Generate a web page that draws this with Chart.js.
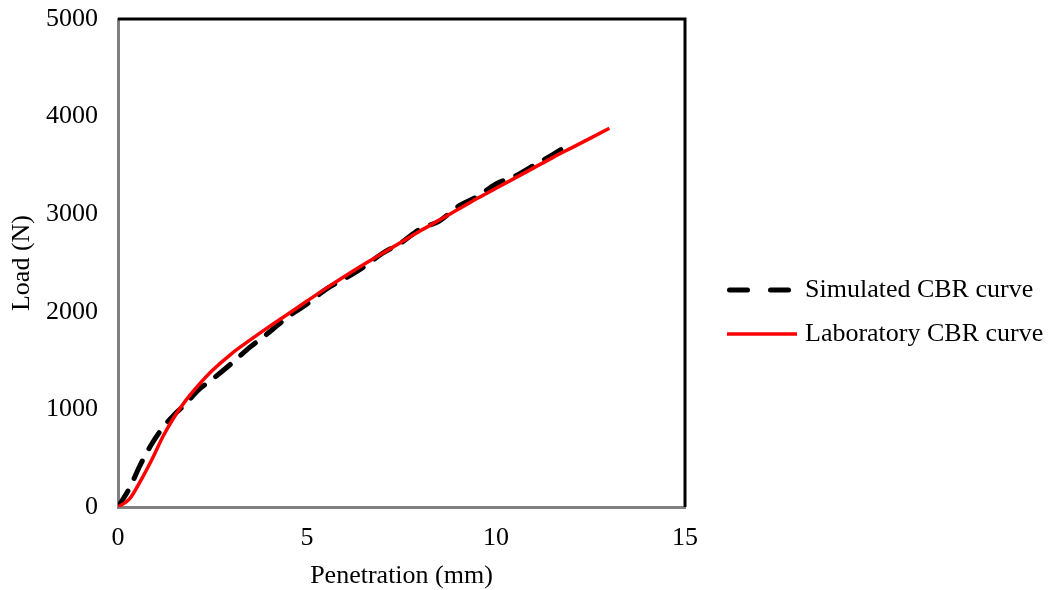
<!DOCTYPE html>
<html>
<head>
<meta charset="utf-8">
<script src="https://cdn.jsdelivr.net/npm/chart.js@4"></script>
<style>
  html, body { margin: 0; padding: 0; background: #fff; }
  #wrap { width: 1053px; height: 590px; }
</style>
</head>
<body>
<div id="wrap"><canvas id="chart"></canvas></div>
<script>
// data
const simPen  = [0, 0.3, 0.6, 0.9, 1.2, 1.5, 1.8, 2.1, 2.5, 3.0, 3.5, 4.0, 4.5, 5.0, 5.5, 6.0, 6.5, 7.0, 7.5, 8.0, 8.5, 9.0, 9.5, 10.0, 10.5, 11.0, 11.5, 12.0];
const simLoad = [0, 190, 440, 650, 820, 950, 1060, 1190, 1310, 1470, 1640, 1790, 1950, 2080, 2230, 2340, 2460, 2600, 2710, 2850, 2930, 3080, 3180, 3310, 3390, 3500, 3610, 3730];

const labPen  = [0, 0.3, 0.6, 0.9, 1.2, 1.5, 1.8, 2.1, 2.5, 3.0, 3.5, 4.0, 4.5, 5.0, 5.5, 6.0, 6.5, 7.0, 7.5, 8.0, 8.5, 9.0, 9.5, 10.0, 10.5, 11.0, 11.5, 12.0, 12.5, 13.0];
const labLoad = [0, 80, 270, 490, 730, 930, 1095, 1235, 1400, 1570, 1712, 1848, 1978, 2110, 2240, 2365, 2485, 2600, 2715, 2830, 2940, 3050, 3160, 3265, 3370, 3475, 3580, 3680, 3780, 3880];

const seriesNames = ['Simulated CBR curve', 'Laboratory CBR curve'];
const xTitle = 'Penetration (mm)';
const yTitle = 'Load (N)';

const FONT = "'Times New Roman', 'Liberation Serif', serif";

function toPoints(xs, ys) {
    return xs.map((x, i) => ({ x: x, y: ys[i] }));
}

// top and right frame of the plot area
const framePlugin = {
    id: 'frame',
    afterDatasetsDraw(chart) {
        const { ctx, chartArea: a } = chart;
        ctx.save();
        ctx.strokeStyle = '#000';
        ctx.lineWidth = 3;
        ctx.beginPath();
        ctx.moveTo(a.left, a.top);
        ctx.lineTo(a.right, a.top);
        ctx.lineTo(a.right, a.bottom);
        ctx.stroke();
        ctx.restore();
    }
};

// legend on the right side
const sideLegend = {
    id: 'sideLegend',
    afterDraw(chart) {
        const ctx = chart.ctx;
        const x0 = 727, len = 70, y0 = 290, gap = 44;
        ctx.save();
        chart.data.datasets.forEach((ds, i) => {
            const y = y0 + i * gap;
            const dashed = !!ds.borderDash;
            ctx.beginPath();
            ctx.strokeStyle = ds.borderColor;
            ctx.lineWidth = ds.borderWidth;
            ctx.lineCap = ds.borderCapStyle || 'butt';
            ctx.setLineDash(dashed ? [18, 23] : []);
            ctx.moveTo(dashed ? x0 + 2.5 : x0, y);
            ctx.lineTo(dashed ? x0 + 62.5 : x0 + len, y);
            ctx.stroke();
            ctx.setLineDash([]);
            ctx.fillStyle = '#000';
            ctx.font = '26px ' + FONT;
            ctx.textBaseline = 'middle';
            ctx.fillText(ds.label, x0 + len + 8, y);
        });
        ctx.restore();
    }
};

new Chart(document.getElementById('chart'), {
    type: 'scatter',
    data: {
        datasets: [
            {
                label: seriesNames[0],
                data: toPoints(simPen, simLoad),
                showLine: true,
                borderColor: '#000000',
                borderWidth: 5,
                borderDash: [19, 14],
                borderCapStyle: 'round',
                pointRadius: 0,
                cubicInterpolationMode: 'monotone',
                order: 2
            },
            {
                label: seriesNames[1],
                data: toPoints(labPen, labLoad),
                showLine: true,
                borderColor: '#ff0000',
                borderWidth: 3.5,
                pointRadius: 0,
                cubicInterpolationMode: 'monotone',
                order: 1
            }
        ]
    },
    options: {
        responsive: true,
        maintainAspectRatio: false,
        animation: false,
        layout: { padding: { top: 19, right: 368, left: 0, bottom: 0 } },
        plugins: {
            legend: { display: false },
            tooltip: { enabled: false }
        },
        scales: {
            x: {
                type: 'linear',
                min: 0,
                max: 15,
                grid: { display: false, drawTicks: false },
                border: { display: true, color: '#808080', width: 3 },
                ticks: { stepSize: 5, color: '#000', padding: 16, font: { family: FONT, size: 26 } },
                title: { display: true, text: xTitle, color: '#000', padding: { bottom: 1 }, font: { family: FONT, size: 26, lineHeight: 1 } },
                afterFit(scale) { scale.height = 83; scale.paddingLeft = 0; scale.paddingRight = 0; }
            },
            y: {
                type: 'linear',
                min: 0,
                max: 5000,
                grid: { display: false, drawTicks: false },
                border: { display: true, color: '#808080', width: 3 },
                ticks: { stepSize: 1000, color: '#000', padding: 20, font: { family: FONT, size: 26 }, callback: v => String(v) },
                title: { display: true, text: yTitle, color: '#000', padding: { top: 9 }, font: { family: FONT, size: 26, lineHeight: 1 } },
                afterFit(scale) { scale.width = 118; scale.paddingTop = 0; scale.paddingBottom = 0; }
            }
        }
    },
    plugins: [framePlugin, sideLegend]
});
</script>
</body>
</html>
